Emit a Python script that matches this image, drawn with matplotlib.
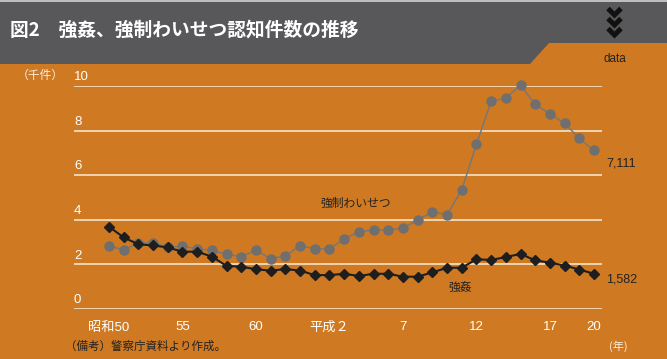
import numpy as np
import matplotlib
matplotlib.use('Agg')
from matplotlib import pyplot as plt
from matplotlib.patches import Rectangle, Polygon

plt.rcParams['font.family'] = ['Noto Sans CJK JP', 'DejaVu Sans']

# データ（千件）
years = list(range(1975, 2009))
waisetsu = [2.83, 2.65, 2.96, 2.96, 2.79, 2.81, 2.70, 2.63, 2.45, 2.35,
            2.63, 2.26, 2.38, 2.84, 2.70, 2.70, 3.14, 3.47, 3.54, 3.54,
            3.62, 3.99, 4.36, 4.23, 5.34, 7.38, 9.31, 9.46, 10.03, 9.18,
            8.75, 8.33, 7.65, 7.11]
goukan = [3.69, 3.21, 2.90, 2.85, 2.76, 2.57, 2.57, 2.35, 1.93, 1.90,
          1.78, 1.72, 1.79, 1.72, 1.52, 1.52, 1.58, 1.48, 1.58, 1.58,
          1.45, 1.45, 1.64, 1.85, 1.85, 2.23, 2.20, 2.33, 2.47, 2.18,
          2.08, 1.95, 1.77, 1.58]
xtick_years = [1975, 1980, 1985, 1990, 1995, 2000, 2005, 2008]
xtick_labels = ['昭和50', '55', '60', '平成２', '7', '12', '17', '20']
yticks = [0, 2, 4, 6, 8, 10]

ORANGE = '#cf7a23'
DARK = '#58585a'
GRID = '#f6e3c8'
LIGHT = '#fbeedd'

W, H = 667, 359
fig = plt.figure(figsize=(W / 100, H / 100), dpi=100, facecolor=ORANGE)

# 背景・見出し用（ピクセル座標）
bg = fig.add_axes([0, 0, 1, 1])
bg.set_xlim(0, W)
bg.set_ylim(H, 0)
bg.axis('off')
bg.add_patch(Rectangle((0, 0), W, 64, color=DARK, lw=0))
bg.add_patch(Rectangle((0, 0), W, 2, color='#bdbdbd', lw=0))
bg.add_patch(Polygon([[530, 64], [549, 43], [W, 43], [W, 64]], closed=True,
                     color=ORANGE, lw=0))
bg.text(10, 30, '図2　強姦、強制わいせつ認知件数の推移', color='white',
        fontsize=13.5, fontweight='bold', va='center', ha='left')
# 矢印（シェブロン）
for cy in [12, 22, 32]:
    bg.plot([608, 614.5, 621], [cy - 3.5, cy + 3, cy - 3.5], color='#111111',
            lw=3.6, solid_capstyle='butt', solid_joinstyle='miter')
bg.text(615, 59, 'data', color='#222222', fontsize=8.5, ha='center',
        va='center', family=['Liberation Sans', 'DejaVu Sans'])
bg.text(40, 75, '（千件）', color=LIGHT, fontsize=8.5, ha='center', va='center')
bg.text(606, 163, '7,111', color='#222222', fontsize=9, ha='left',
        va='center', family=['Liberation Sans', 'DejaVu Sans'])
bg.text(606, 279, '1,582', color='#222222', fontsize=9, ha='left',
        va='center', family=['Liberation Sans', 'DejaVu Sans'])
bg.text(618, 346, '(年)', color=LIGHT, fontsize=8, ha='center', va='center')
bg.text(65, 346, '（備考）警察庁資料より作成。', color='#222222', fontsize=8.3,
        ha='left', va='center')

# メインのグラフ
x0_px, x1_px = 74, 602
first_px, last_px = 109, 594
step = (last_px - first_px) / (years[-1] - years[0])
xmin = years[0] - (first_px - x0_px) / step
xmax = years[-1] + (x1_px - last_px) / step
ytop_px, ybot_px = 86, 309

ax = fig.add_axes([x0_px / W, (H - ybot_px) / H, (x1_px - x0_px) / W,
                   (ybot_px - ytop_px) / H])
ax.patch.set_alpha(0)
ax.set_xlim(xmin, xmax)
ax.set_ylim(0, 10)
for s in ax.spines.values():
    s.set_visible(False)
ax.set_yticks(yticks)
ax.set_yticklabels([])
ax.tick_params(axis='y', length=0)
ax.grid(axis='y', color=GRID, lw=1.2)
ax.set_axisbelow(True)

for v in yticks:
    ax.annotate(str(v), xy=(0.0, v), xycoords=('axes fraction', 'data'),
                xytext=(0, 2), textcoords='offset points', color='white',
                fontsize=9.5, ha='left', va='bottom',
                family=['Liberation Sans', 'DejaVu Sans'])

ax.set_xticks(xtick_years)
ax.set_xticklabels(xtick_labels, color='white', fontsize=9.5,
                   family=['Liberation Sans', 'Noto Sans CJK JP'])
ax.tick_params(axis='x', length=0, pad=9)

ax.plot(years, waisetsu, color='#777777', lw=1.1, marker='o', ms=6.5,
        mfc='#6f6f6f', mec='#6f6f6f', clip_on=False, zorder=3)
ax.plot(years, goukan, color='#1e1e1e', lw=1.5, marker='D', ms=5.5,
        mfc='#1e1e1e', mec='#1e1e1e', clip_on=False, zorder=4)

ax.text(1991.8, 4.75, '強制わいせつ', color='#222222', fontsize=8.5,
        ha='center', va='center')
ax.text(1998.9, 0.99, '強姦', color='#222222', fontsize=8.5,
        ha='center', va='center')

fig.savefig('out.png', dpi=100, facecolor=ORANGE)
